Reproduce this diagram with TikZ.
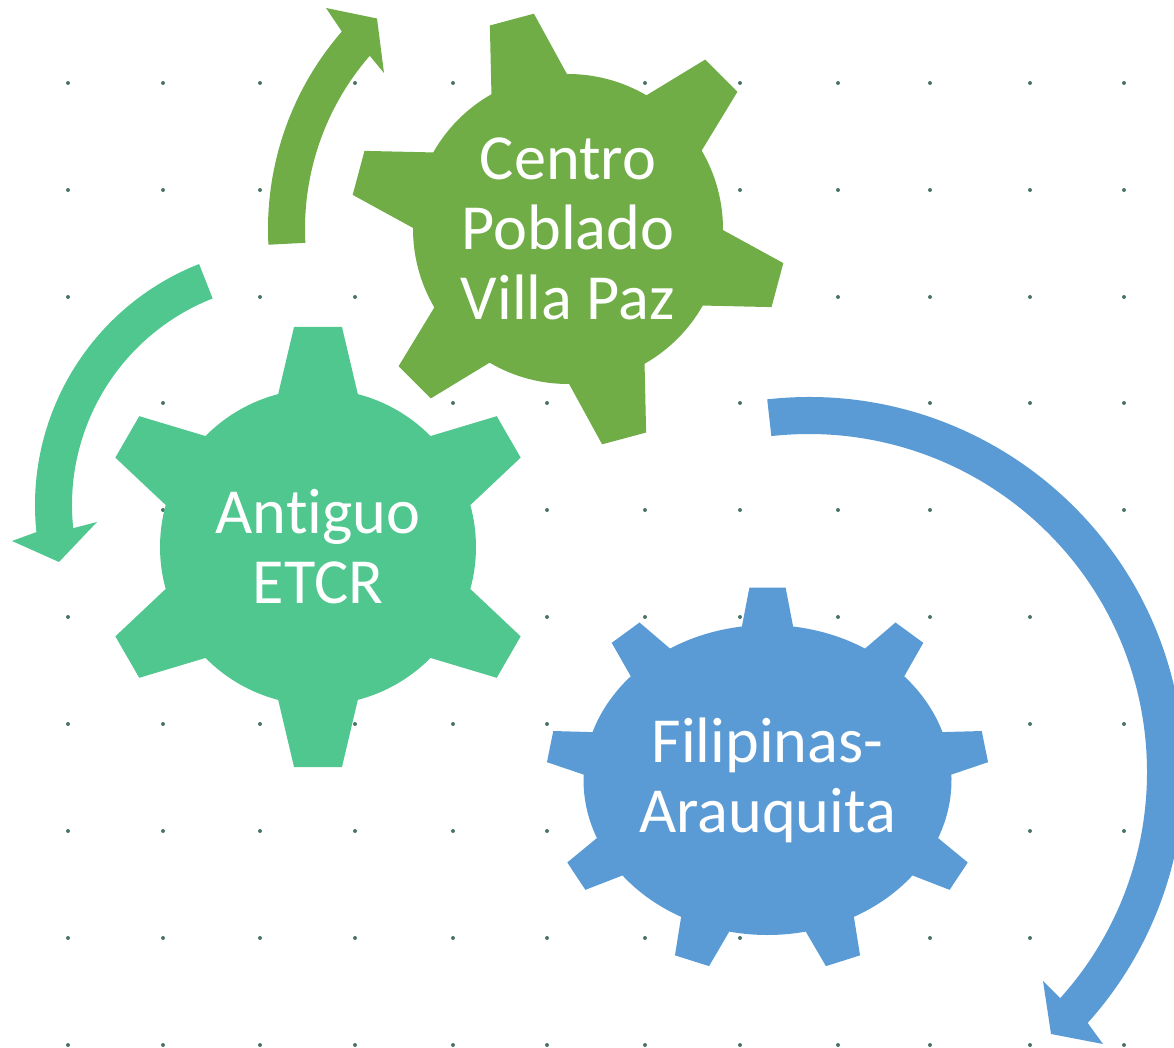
\documentclass[tikz,border=0pt]{standalone}
\usepackage{fontspec}
\setmainfont[Ligatures=NoCommon]{Carlito}
\usetikzlibrary{calc}
\definecolor{GearGreen}{HTML}{70AD47}
\definecolor{GearTeal}{HTML}{4FC78F}
\definecolor{GearBlue}{HTML}{5B9BD5}
\definecolor{DotGrey}{HTML}{4A7564}
\tikzset{
	GridDot/.style={fill=DotGrey},
	GearLabel/.style={text=white, align=center, inner sep=0pt, font=\fontsize{48.2}{52.5}\selectfont},
}
% style, centre, body radii, tip radii, half angles of base and tip, number of teeth
\newcommand{\GearShape}[9]{
	\pgfmathsetmacro{\GearPitch}{360/#9}
	\pgfmathsetmacro{\GearGap}{\GearPitch-2*#7}
	\fill[shift={#2}, #1] (90+#7:#3 and #4)
		\foreach \i [evaluate=\i as \a using 90-(\i-1)*\GearPitch] in {1,...,#9}{
			-- (\a+#7:#3 and #4) -- (\a+#8:#5 and #6) -- (\a-#8:#5 and #6) -- (\a-#7:#3 and #4)
			arc[start angle=\a-#7, delta angle=-\GearGap, x radius=#3, y radius=#4]
		} -- cycle;
}
\begin{document}
\begin{tikzpicture}[x=0.75pt, y=0.75pt]
	\useasboundingbox (0,0) rectangle (1174,1047);
	\clip (0,0) rectangle (1174,1047);

	% Dots (two of them stay hidden under the green gear)
	\foreach \x in {68,163,260,355,453,547,645,740,838,930,1030,1124}
		\foreach \y in {964,857,750,644,537,430,323,216,109,2}{
			\ifnum\x\y=645644 \else \ifnum\x\y=355857 \else
				\fill[GridDot] (\x,\y) circle (2);
			\fi\fi
		}

	% Centro Poblado gear
	\GearShape{GearGreen, rotate=15}{(568,818)}{155}{155}{218}{218}{14.6}{6}{6}
	\node (CentroPoblado) at (568,818) [GearLabel]{Centro\\Poblado\\Villa Paz};

	% Antiguo ETCR gear
	\GearShape{GearTeal}{(318,500)}{158}{158}{221.5}{221.5}{14.6}{6.2}{6}
	\node (AntiguoETCR) at (318,500) [GearLabel]{Antiguo\\ETCR};

	% Filipinas gear
	\GearShape{GearBlue}{(767.5,267)}{184}{155}{221.5}{193}{8}{4.7}{9}
	\node (FilipinasArauquita) at (767.5,267) [GearLabel]{Filipinas-\\Arauquita};

	% Green arrow
	\coordinate (GreenCentre) at (569,818);
	\fill[GearGreen] ($(GreenCentre)+(183:301)$) arc[start angle=183, end angle=139, radius=301]
		-- (326,1039) -- (377,1028.5) -- (384,974)
		-- ($(GreenCentre)+(139:264)$) arc[start angle=139, end angle=183, radius=264] -- cycle;

	% Teal arrow
	\coordinate (TealCentre) at (294,542);
	\fill[GearTeal] ($(TealCentre)+(111.5:259)$) arc[start angle=111.5, end angle=186, radius=259]
		-- (12,506) -- (59,485) -- (97,525)
		-- ($(TealCentre)+(186:222)$) arc[start angle=186, end angle=111.5, radius=222] -- cycle;

	% Blue arrow
	\coordinate (BlueCentre) at (809,275);
	\fill[GearBlue] ($(BlueCentre)+(96.4:375)$) arc[start angle=96.4, end angle=-42, radius=375]
		-- (1103,3) -- (1051,13) -- (1043,66)
		-- ($(BlueCentre)+(-42:338)$) arc[start angle=-42, end angle=96.4, radius=338] -- cycle;
\end{tikzpicture}
\end{document}
